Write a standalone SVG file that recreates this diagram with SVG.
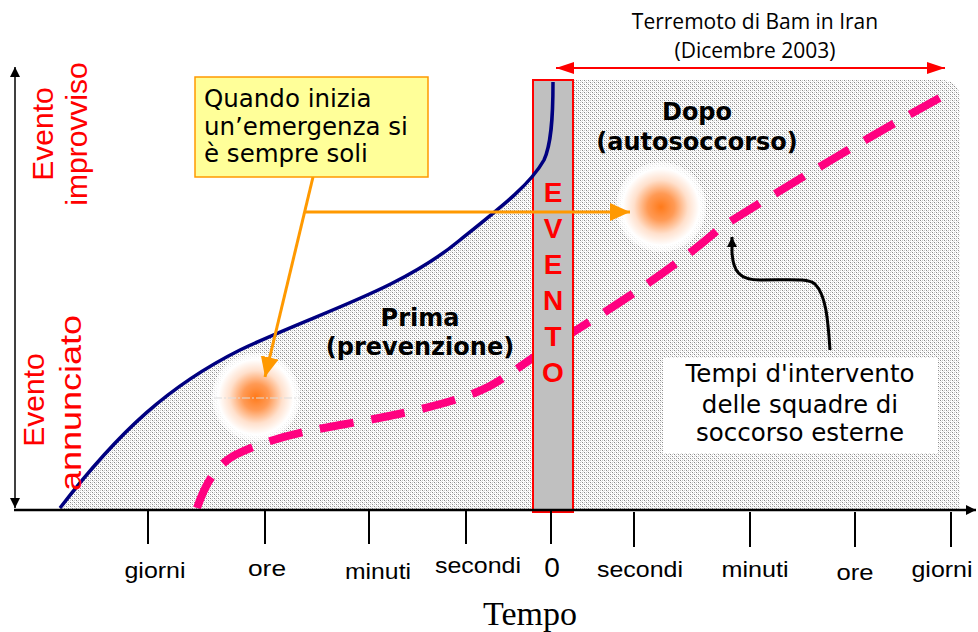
<svg xmlns="http://www.w3.org/2000/svg" width="978" height="632" viewBox="0 0 978 632">
<defs>
<style>
.tick{stroke:#000;stroke-width:2}
.tl{font-family:"Liberation Sans",Arial,sans-serif;font-size:22px;fill:#000;text-anchor:middle}
.yl{font-family:"Liberation Sans",Arial,sans-serif;font-size:30px;fill:#ff0000;text-anchor:middle}
.ev{font-family:"Liberation Sans",Arial,sans-serif;font-size:28px;font-weight:bold;fill:#ff0000;text-anchor:middle}
.vd{font-family:"DejaVu Sans",Verdana,sans-serif;font-size:24.5px;fill:#000}
.vb{font-family:"DejaVu Sans",Verdana,sans-serif;font-size:24px;font-weight:bold;fill:#000;text-anchor:middle}
.cal{font-family:"Open Sans","Liberation Sans",sans-serif;font-size:21px;fill:#000;text-anchor:middle}
</style>
<pattern id="dots" width="4" height="4" patternUnits="userSpaceOnUse">
<rect width="4" height="4" fill="#ffffff"/>
<rect x="0" y="0" width="1" height="1" fill="#8a8a8a"/>
<rect x="2" y="2" width="1" height="1" fill="#8a8a8a"/>
<rect x="2" y="0" width="1" height="1" fill="#c8c8c8"/>
<rect x="0" y="2" width="1" height="1" fill="#c8c8c8"/>
<rect x="1" y="1" width="1" height="1" fill="#e0e0e0"/>
<rect x="3" y="3" width="1" height="1" fill="#e0e0e0"/>
</pattern>
<radialGradient id="glow" cx="0.5" cy="0.5" r="0.5">
<stop offset="0" stop-color="#ff7a1a"/>
<stop offset="0.3" stop-color="#ff9a55"/>
<stop offset="0.6" stop-color="#ffe0cc"/>
<stop offset="0.85" stop-color="#ffffff"/>
<stop offset="1" stop-color="#ffffff" stop-opacity="0.6"/>
</radialGradient>
<marker id="ablack" viewBox="0 0 10 10" refX="10" refY="5" markerWidth="10" markerHeight="10" markerUnits="userSpaceOnUse" orient="auto-start-reverse">
<path d="M0,0 L10,5 L0,10 Z" fill="#000"/>
</marker>
<marker id="ablack2" viewBox="0 0 10 10" refX="10" refY="5" markerWidth="10" markerHeight="10" markerUnits="userSpaceOnUse" orient="auto">
<path d="M0,0 L10,5 L0,10 Z" fill="#000"/>
</marker>
<marker id="ared" viewBox="0 0 10 10" refX="10" refY="5" markerWidth="18" markerHeight="12" markerUnits="userSpaceOnUse" orient="auto-start-reverse" preserveAspectRatio="none">
<path d="M0,0 L10,5 L0,10 Z" fill="#ff0000"/>
</marker>
<marker id="aorange" viewBox="0 0 10 10" refX="10" refY="5" markerWidth="20" markerHeight="18" markerUnits="userSpaceOnUse" orient="auto" preserveAspectRatio="none">
<path d="M0,0 L10,5 L0,10 Z" fill="#ff9900"/>
</marker>
</defs>
<rect width="978" height="632" fill="#ffffff"/>

<g id="shading">
<path d="M60,508 C120,430 170,385 240,350 C320,312 400,290 460,240 C500,208 530,185 544,160 C551,145 553,120 553,82 L553,510 L60,510 Z" fill="url(#dots)"/>
<path d="M553,80 L940,80 Q960,80 960,100 L960,510 L553,510 Z" fill="url(#dots)"/>
</g>

<g id="glow-prima">
<circle cx="256" cy="397" r="44" fill="url(#glow)"/>
<line x1="214" y1="398" x2="300" y2="398" stroke="#dddddd" stroke-width="1" stroke-dasharray="8 2 2 2"/>
</g>
<g id="glow-dopo">
<circle cx="661" cy="207" r="45" fill="url(#glow)"/>
</g>

<g id="curve-pink">
<path d="M197,508 C205,485 215,466 235,455 C265,440 300,432 340,425 C400,415 460,402 490,386 C512,374 525,362 545,350 L600,315 C640,290 690,255 720,228 C780,190 880,130 945,95" fill="none" stroke="#ff0080" stroke-width="8" stroke-dasharray="34 18"/>
</g>

<g id="evento-bar">
<rect x="533" y="80" width="40" height="432" fill="#c0c0c0" stroke="#ff0000" stroke-width="2"/>
</g>

<g id="curve-blue">
<path d="M60,508 C120,430 170,385 240,350 C320,312 400,290 460,240 C500,208 530,185 544,160 C551,145 553,120 553,82" fill="none" stroke="#000080" stroke-width="3.5"/>
</g>

<g id="evento-text">
<text class="ev" x="553" y="202">E</text>
<text class="ev" x="553" y="238">V</text>
<text class="ev" x="553" y="274">E</text>
<text class="ev" x="553" y="310">N</text>
<text class="ev" x="553" y="346">T</text>
<text class="ev" x="553" y="382">O</text>
</g>

<g id="connectors">
<line x1="15" y1="67" x2="15" y2="508" stroke="#000" stroke-width="1.5" marker-start="url(#ablack)" marker-end="url(#ablack)"/>
<line x1="14" y1="510" x2="976" y2="510" stroke="#000" stroke-width="2.5" marker-end="url(#ablack2)"/>
<line x1="556" y1="68" x2="945" y2="68" stroke="#ff0000" stroke-width="2" marker-start="url(#ared)" marker-end="url(#ared)"/>
<line x1="313" y1="177" x2="265" y2="377" stroke="#ff9900" stroke-width="3" marker-end="url(#aorange)"/>
<line x1="304" y1="212" x2="630" y2="212" stroke="#ff9900" stroke-width="3" marker-end="url(#aorange)"/>
<path d="M830,350 C828,320 826,295 815,284 C808,278 790,280 760,280 C740,280 733,272 732,252 L732,237" fill="none" stroke="#000" stroke-width="3" marker-end="url(#ablack2)"/>
</g>

<g id="ticks">
<line class="tick" x1="148" y1="510" x2="148" y2="544"/>
<line class="tick" x1="265" y1="510" x2="265" y2="544"/>
<line class="tick" x1="369" y1="510" x2="369" y2="544"/>
<line class="tick" x1="466" y1="510" x2="466" y2="544"/>
<line class="tick" x1="551" y1="510" x2="551" y2="544"/>
<line class="tick" x1="634" y1="512" x2="634" y2="547"/>
<line class="tick" x1="750" y1="512" x2="750" y2="547"/>
<line class="tick" x1="855" y1="512" x2="855" y2="547"/>
<line class="tick" x1="951" y1="512" x2="951" y2="547"/>
</g>

<g id="tick-labels">
<text class="tl" x="155" y="578" textLength="61" lengthAdjust="spacingAndGlyphs">giorni</text>
<text class="tl" x="267" y="576" textLength="38" lengthAdjust="spacingAndGlyphs">ore</text>
<text class="tl" x="378" y="579" textLength="66" lengthAdjust="spacingAndGlyphs">minuti</text>
<text class="tl" x="478" y="573" textLength="86" lengthAdjust="spacingAndGlyphs">secondi</text>
<text class="tl" x="552" y="577" style="font-size:28px">0</text>
<text class="tl" x="640" y="577" textLength="86" lengthAdjust="spacingAndGlyphs">secondi</text>
<text class="tl" x="755" y="577" textLength="67" lengthAdjust="spacingAndGlyphs">minuti</text>
<text class="tl" x="855" y="580" textLength="37" lengthAdjust="spacingAndGlyphs">ore</text>
<text class="tl" x="942" y="577" textLength="61" lengthAdjust="spacingAndGlyphs">giorni</text>
<text x="530" y="625" style="font-family:'Liberation Serif','Times New Roman',serif;font-size:34px;text-anchor:middle">Tempo</text>
</g>

<g id="y-labels">
<text class="yl" transform="translate(53,134) rotate(-90)">Evento</text>
<text class="yl" transform="translate(87,134) rotate(-90)">improvviso</text>
<text class="yl" transform="translate(44,400) rotate(-90)">Evento</text>
<text class="yl" transform="translate(81,403) rotate(-90)" textLength="176" lengthAdjust="spacingAndGlyphs">annunciato</text>
</g>

<g id="bam-label">
<text class="cal" x="755" y="29">Terremoto di Bam in Iran</text>
<text class="cal" x="755" y="58">(Dicembre 2003)</text>
</g>

<g id="box-soli">
<rect x="195" y="77" width="233" height="100" fill="#ffff99" stroke="#ff9900" stroke-width="1.5"/>
<text class="vd" x="204" y="107">Quando inizia</text>
<text class="vd" x="204" y="135">un’emergenza si</text>
<text class="vd" x="204" y="162">è sempre soli</text>
</g>

<g id="label-prima">
<text class="vb" x="420" y="326">Prima</text>
<text class="vb" x="420" y="355">(prevenzione)</text>
</g>

<g id="label-dopo">
<text class="vb" x="697" y="120">Dopo</text>
<text class="vb" x="697" y="150">(autosoccorso)</text>
</g>

<g id="box-tempi">
<rect x="663" y="358" width="275" height="95" fill="#ffffff"/>
<text class="vd" x="800" y="382" text-anchor="middle">Tempi d'intervento</text>
<text class="vd" x="800" y="413" text-anchor="middle">delle squadre di</text>
<text class="vd" x="800" y="441" text-anchor="middle">soccorso esterne</text>
</g>
</svg>
